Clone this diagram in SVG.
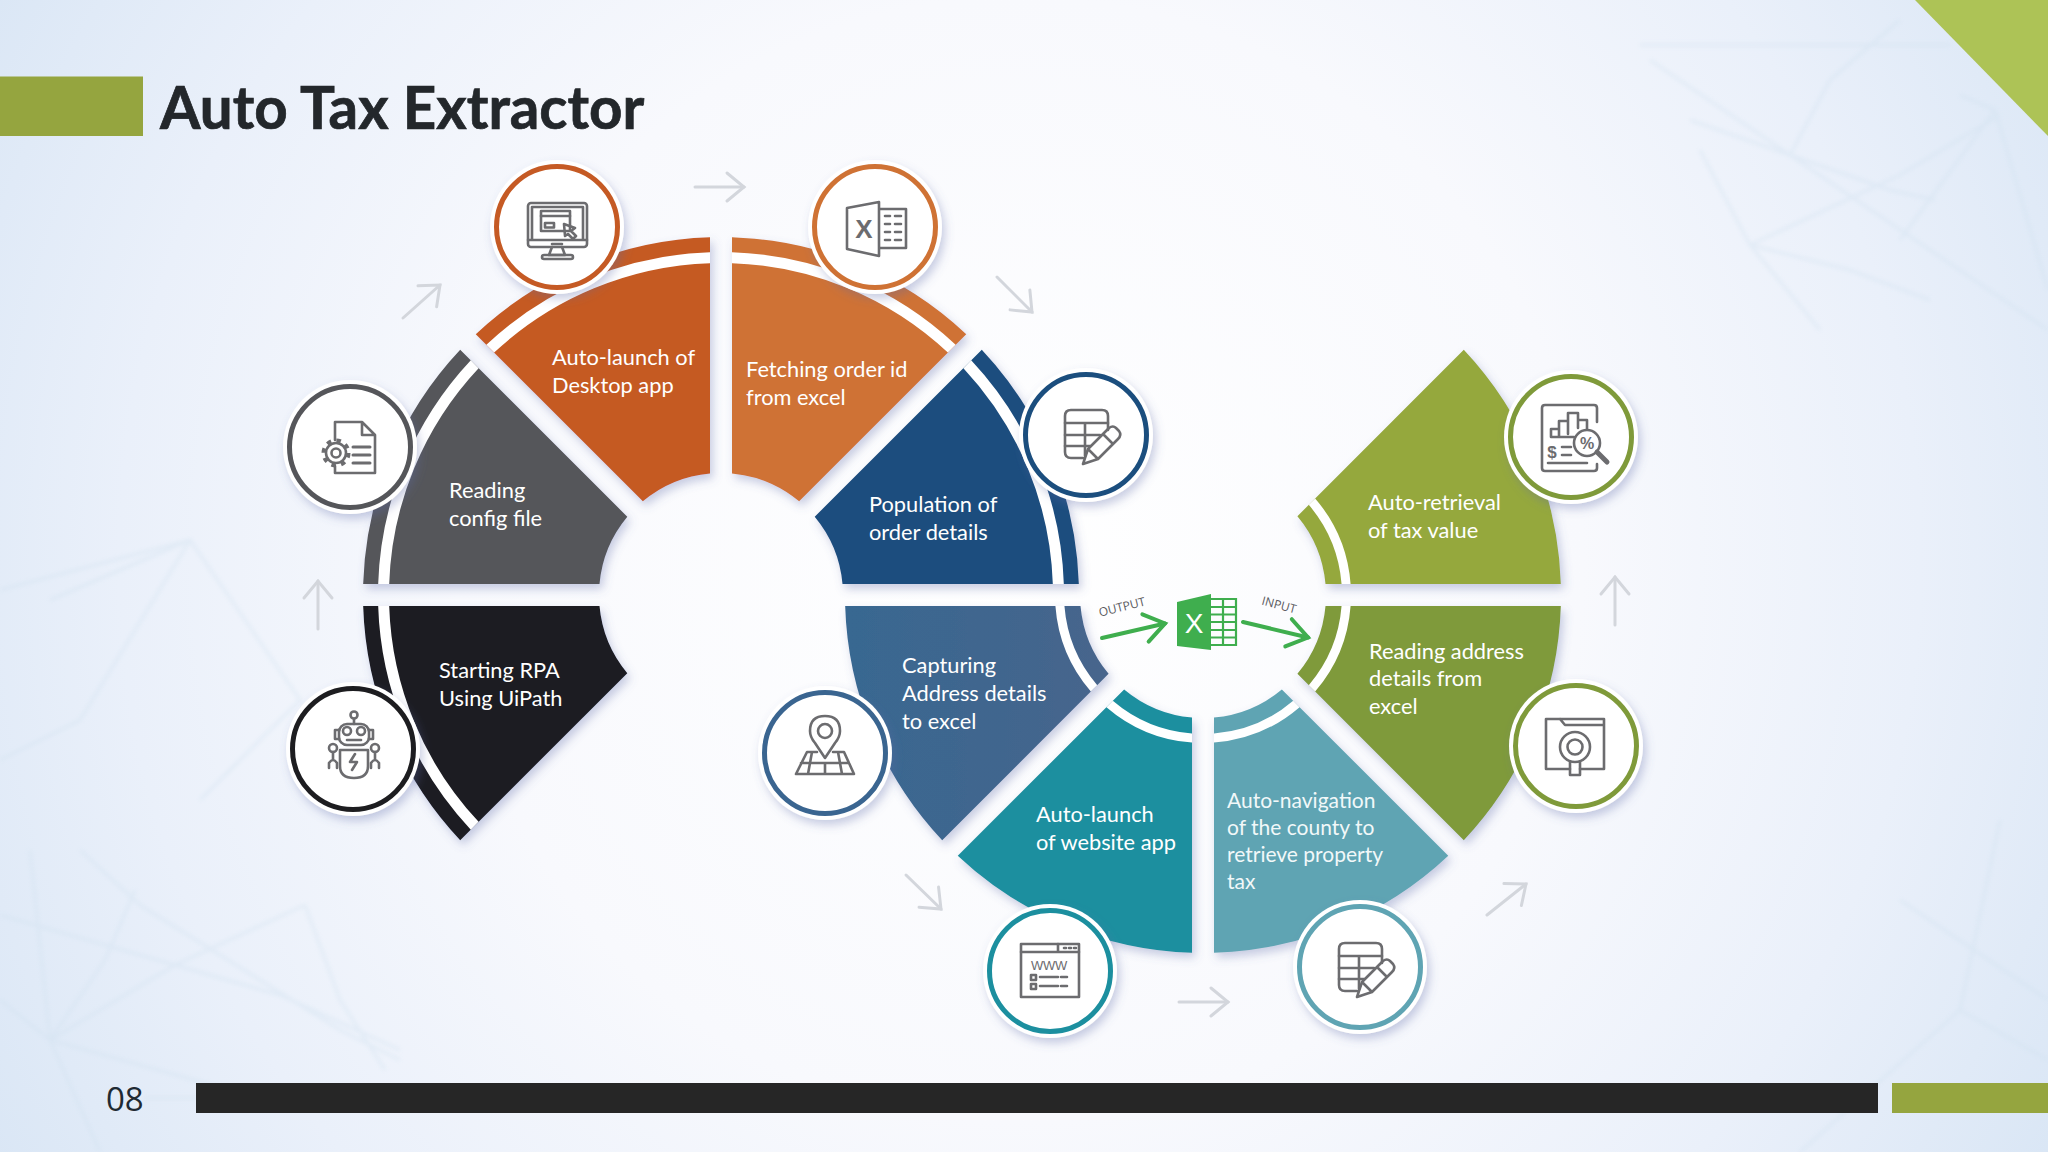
<svg xmlns="http://www.w3.org/2000/svg" xmlns:xlink="http://www.w3.org/1999/xlink" width="2048" height="1152" viewBox="0 0 2048 1152">
<defs>
<radialGradient id="bg" gradientUnits="userSpaceOnUse" cx="1020" cy="560" r="1250">
<stop offset="0" stop-color="#ffffff"/><stop offset=".45" stop-color="#f8f9fd"/><stop offset=".72" stop-color="#eaf0fa"/><stop offset="1" stop-color="#d6e4f4"/>
</radialGradient>
<linearGradient id="capG" x1="0" y1="0" x2="1" y2="0"><stop offset="0" stop-color="#386791"/><stop offset="1" stop-color="#47658c"/></linearGradient>
<filter id="sh" x="-15%" y="-15%" width="130%" height="130%"><feDropShadow dx="3" dy="5" stdDeviation="5" flood-color="#5a6aa8" flood-opacity=".33"/></filter>
<filter id="blur" x="-5%" y="-5%" width="110%" height="110%"><feGaussianBlur stdDeviation="2"/></filter>
<marker id="ah" markerUnits="userSpaceOnUse" viewBox="-24 -20 30 40" refX="0" refY="0" markerWidth="30" markerHeight="40" orient="auto"><path d="M-17-14 0 0-17 14" fill="none" stroke="#d3d6dc" stroke-width="3" stroke-linecap="round"/></marker>
<marker id="ag" markerUnits="userSpaceOnUse" viewBox="-26 -20 32 40" refX="0" refY="0" markerWidth="32" markerHeight="40" orient="auto"><path d="M-20-14 0 0-20 14" fill="none" stroke="#3fae4e" stroke-width="4" stroke-linecap="round"/></marker>
<g id="tableIcon" class="ic">
<path d="M1083 458H1071Q1065 458 1065 452V416Q1065 410 1071 410H1102Q1108 410 1108 416V430"/>
<path d="M1065 423H1108M1065 435H1100M1065 446H1090M1085 423V456"/>
<path d="M1083 464 1088 449 1109 428Q1113 425 1116 428L1119 431Q1122 435 1118 439L1098 459ZM1103 434 1113 444M1088 449 1098 459"/>
</g>
</defs>
<style>
.seg{filter:url(#sh)}
.band{fill:#fff}
.t{font-family:Lato,"Liberation Sans",sans-serif;font-size:21.800px;fill:#fff}
.t2{font-size:21px;fill:#f1f8f9}
.ring{fill:#fff;stroke:none;filter:url(#sh)}
.rc{fill:none;stroke-width:5}
.ic{fill:none;stroke:#6c6c6f;stroke-width:2.6;stroke-linejoin:round;stroke-linecap:round}
.ic2{fill:#6c6c6f;font-family:"Liberation Sans",sans-serif}
.ar{fill:none;stroke:#d3d6dc;stroke-width:3;stroke-linecap:round;marker-end:url(#ah)}
.ag{fill:none;stroke:#3fae4e;stroke-width:4;stroke-linecap:round;marker-end:url(#ag)}
.lb{font-family:"Open Sans","Liberation Sans",sans-serif;font-size:12px;fill:#5a5a5e}
</style>
<rect width="2048" height="1152" fill="url(#bg)"/>
<g fill="none" stroke="#cfe0ee" stroke-width="3" opacity=".4" filter="url(#blur)">
<path d="M1650 60 1790 155 2048 330M1640 45H1950M1690 120 1790 155 1890 190 1935 200M1750 245 1900 175 2000 115M1750 245 1700 150M1750 245 1850 270 1930 300M1900 240 1995 110 2048 290M1790 155 1830 80 1900 20M1995 110 1960 95M1750 245 1820 330"/>
<path d="M80 850 140 905 340 1030 400 1060M50 1040 105 960 135 890M50 1040 175 965 305 905M305 905 340 1000 385 1070M50 1040 0 1000M50 1040 30 850M50 1040 100 1152M0 915 175 965 280 995 400 1050M144 1098H196M50 1040 230 1090"/>
<path d="M0 590 190 540 300 700 200 800M190 540 80 720 0 760M190 540 50 600M1900 900 2048 1000M1800 1152 1960 1010 2048 1060M1960 1010 2000 820"/>
</g>
<g id="header">
<rect x="0" y="76.500" width="143" height="59.500" fill="#95a53f"/>
<polygon points="1915,0 2048,0 2048,136" fill="#adc356"/>
<text x="160" y="128.500" font-family="Lato,'Liberation Sans',sans-serif" font-weight="700" font-size="58.300" fill="#23272b" stroke="#23272b" stroke-width=".7">Auto Tax Extractor</text>
</g>
<g id="footer">
<text x="106" y="1111" font-family="'Open Sans','Liberation Sans',sans-serif" font-size="33" fill="#1f2a33">08</text>
<rect x="196" y="1083" width="1682" height="30" fill="#262626"/>
<rect x="1892" y="1083" width="156" height="30" fill="#95a53f"/>
</g>
<g id="connectors">
<path class="ar" d="M318 629V581"/>
<path class="ar" d="M403 318 440 285"/>
<path class="ar" d="M695 187H744"/>
<path class="ar" d="M997 277 1032 312"/>
<path class="ar" d="M906 875 941 909"/>
<path class="ar" d="M1179 1002H1228"/>
<path class="ar" d="M1487 915 1526 884"/>
<path class="ar" d="M1615 625V577"/>
<path class="ag" d="M1102 638 1165 623.500"/>
<path class="ag" d="M1243 622 1308 637.500"/>
</g>
<g id="node-start">
<g transform="translate(-1 0)"><path class="seg" fill="#1d1d20" d="M364.17 606A358 358 0 0 0 461.2 840.25L628.3 673.14A122 122 0 0 1 600.5 606Z"/>
<path class="band" d="M379.18 606A343 343 0 0 0 471.81 829.64L479.59 821.85A332 332 0 0 1 390.18 606Z"/></g>
<text class="t" x="439" y="678">Starting RPA</text><text class="t" x="439" y="706">Using UiPath</text>
<circle class="ring" cx="353" cy="749" r="67"/><circle class="rc" stroke="#1d1d20" cx="353" cy="749" r="60.500"/>
<g class="ic"><circle cx="354" cy="715" r="3.500"/><path d="M354 719V724"/><rect x="339" y="724" width="30" height="21" rx="8"/><path d="M339 730H335V739H339M369 730H373V739H369"/><circle cx="347" cy="731" r="4"/><circle cx="361" cy="731" r="4"/><path d="M347 740H361"/><path d="M340 750H368V766Q368 778 354 778 340 778 340 766ZM355 754 350 762H357L352 770"/><circle cx="333" cy="748" r="4"/><circle cx="375" cy="748" r="4"/><path d="M333 752V760M329 768V763Q333 757 337 763V768M375 752V760M371 768V763Q375 757 379 763V768"/></g>
</g>
<g id="node-config">
<g transform="translate(-1 0)"><path class="seg" fill="#55565a" d="M364.17 584A358 358 0 0 1 461.2 349.75L628.3 516.86A122 122 0 0 0 600.5 584Z"/>
<path class="band" d="M379.18 584A343 343 0 0 1 471.81 360.36L479.59 368.15A332 332 0 0 0 390.18 584Z"/></g>
<text class="t" x="449" y="498">Reading</text><text class="t" x="449" y="526">config file</text>
<circle class="ring" cx="350" cy="447" r="67"/><circle class="rc" stroke="#55565a" cx="350" cy="447" r="60.500"/>
<g class="ic"><path d="M335 440V422H362L375 435V473H335V466M362 422V435H375"/><path stroke-width="3" d="M353 447H370M353 455H370M353 463H370"/><circle cx="336" cy="453" r="4.500"/><circle cx="336" cy="453" r="10"/><circle cx="336" cy="453" r="12.500" stroke-width="4" stroke-linecap="butt" stroke-dasharray="4.500 5.320" fill="none"/></g>
</g>
<g id="node-desktop">
<g transform="translate(-1 0)"><path class="seg" fill="#c55a24" d="M711 237.17A358 358 0 0 0 476.75 334.2L643.86 501.3A122 122 0 0 1 711 473.5Z"/>
<path class="band" d="M711 252.18A343 343 0 0 0 487.36 344.81L495.15 352.59A332 332 0 0 1 711 263.18Z"/></g>
<text class="t" x="552" y="364.500">Auto-launch of</text><text class="t" x="552" y="393">Desktop app</text>
<circle class="ring" cx="557" cy="227" r="67"/><circle class="rc" stroke="#c55a24" cx="557" cy="227" r="60.500"/>
<g class="ic" stroke-width="2.200"><rect x="528" y="203" width="59" height="44" rx="3"/><path d="M532 240V207H583V240M528 240H587M552 244H562"/><rect x="541" y="211" width="29" height="20"/><path d="M541 216H570"/><rect x="545" y="223" width="9" height="4.500"/><path d="M564 224 575 228 571 231 576 236 573 239 568 234 565 236ZM552 247 549 255H565L562 247"/><rect x="542" y="255" width="31" height="4" rx="2"/></g>
</g>
<g id="node-fetch">
<g transform="translate(-1 0)"><path class="seg" fill="#cf7234" d="M733 237.17A358 358 0 0 1 967.25 334.2L800.14 501.3A122 122 0 0 0 733 473.5Z"/>
<path class="band" d="M733 252.18A343 343 0 0 1 956.64 344.81L948.85 352.59A332 332 0 0 0 733 263.18Z"/></g>
<text class="t" x="746" y="377">Fetching order id</text><text class="t" x="746" y="405">from excel</text>
<circle class="ring" cx="875" cy="227" r="67"/><circle class="rc" stroke="#cf7234" cx="875" cy="227" r="60.500"/>
<g class="ic" stroke-width="3"><path d="M847 208 879 202V256L847 249ZM879 209H906V248H879"/><path d="M885 216H890M895 216H901M885 224H890M895 224H901M885 232H890M895 232H901M885 240H890M895 240H901"/></g>
<text class="ic2" x="864" y="238" font-size="26" font-weight="700" text-anchor="middle">X</text>
</g>
<g id="node-population">
<g transform="translate(-1 0)"><path class="seg" fill="#1b4e7e" d="M1079.83 584A358 358 0 0 0 982.8 349.75L815.7 516.86A122 122 0 0 1 843.5 584Z"/>
<path class="band" d="M1064.82 584A343 343 0 0 0 972.19 360.36L964.41 368.15A332 332 0 0 1 1053.82 584Z"/></g>
<text class="t" x="869" y="512">Population of</text><text class="t" x="869" y="540">order details</text>
<circle class="ring" cx="1086" cy="435" r="67"/><circle class="rc" stroke="#1b4e7e" cx="1086" cy="435" r="60.500"/>
<use href="#tableIcon" xlink:href="#tableIcon"/>
</g>
<g id="node-capture">
<path class="seg" fill="url(#capG)" d="M845.17 606A358 358 0 0 0 942.2 840.25L1108.59 673.85A123 123 0 0 1 1080.49 606Z"/>
<path class="band" d="M1055.41 606A148 148 0 0 0 1090.86 691.58L1097.24 685.2A139 139 0 0 1 1064.44 606Z"/>
<text class="t" x="902" y="672.500">Capturing</text><text class="t" x="902" y="700.500">Address details</text><text class="t" x="902" y="728.500">to excel</text>
<circle class="ring" cx="825" cy="753" r="67"/><circle class="rc" stroke="#3a6590" cx="825" cy="753" r="60.500"/>
<g class="ic" stroke-width="3"><path d="M825 758 815 743Q810 737 810 731 810 716 825 716 840 716 840 731 840 737 835 743Z"/><circle cx="825" cy="731" r="7"/><path d="M817 752H807L796 774H854L844 752H833M801 763H849M812 752 808 774M838 752 842 774M825 763V774"/></g>
</g>
<g id="node-website">
<path class="seg" fill="#1c8f9f" d="M1192 952.83A358 358 0 0 1 957.75 855.8L1124.15 689.41A123 123 0 0 0 1192 717.51Z"/>
<path class="band" d="M1192 742.59A148 148 0 0 1 1106.42 707.14L1112.8 700.76A139 139 0 0 0 1192 733.56Z"/>
<text class="t" x="1036" y="821.500">Auto-launch</text><text class="t" x="1036" y="849.500">of website app</text>
<circle class="ring" cx="1050" cy="971" r="67"/><circle class="rc" stroke="#1c8f9f" cx="1050" cy="971" r="60.500"/>
<g class="ic" stroke-width="1.900"><rect x="1021" y="944" width="58" height="53"/><path d="M1021 952H1079M1058 944V952M1064 948H1066M1069 948H1071M1074 948H1076"/><rect x="1031" y="975" width="5" height="5"/><rect x="1031" y="984" width="5" height="5"/><path d="M1040 977H1058M1061 977H1067M1040 986H1058M1061 986H1067"/></g>
<text class="ic2" x="1049" y="970" font-size="13" text-anchor="middle" letter-spacing="-.3">WWW</text>
</g>
<g id="node-navigate">
<path class="seg" fill="#5fa4b3" d="M1214 952.83A358 358 0 0 0 1448.25 855.8L1281.85 689.41A123 123 0 0 1 1214 717.51Z"/>
<path class="band" d="M1214 742.59A148 148 0 0 0 1299.58 707.14L1293.2 700.76A139 139 0 0 1 1214 733.56Z"/>
<text class="t t2" x="1227" y="808">Auto-navigation</text><text class="t t2" x="1227" y="835">of the county to</text><text class="t t2" x="1227" y="862">retrieve property</text><text class="t t2" x="1227" y="888.500">tax</text>
<circle class="ring" cx="1360" cy="967" r="67"/><circle class="rc" stroke="#5fa4b3" cx="1360" cy="967" r="60.500"/>
<use href="#tableIcon" xlink:href="#tableIcon" transform="translate(274 533)"/>
</g>
<g id="node-reading">
<path class="seg" fill="#7f9a3a" d="M1560.83 606A358 358 0 0 1 1463.8 840.25L1297.41 673.85A123 123 0 0 0 1325.51 606Z"/>
<path class="band" d="M1350.59 606A148 148 0 0 1 1315.14 691.58L1308.76 685.2A139 139 0 0 0 1341.56 606Z"/>
<text class="t" x="1369" y="658.500">Reading address</text><text class="t" x="1369" y="686">details from</text><text class="t" x="1369" y="714">excel</text>
<circle class="ring" cx="1576" cy="746" r="67"/><circle class="rc" stroke="#7f9a3a" cx="1576" cy="746" r="60.500"/>
<g class="ic" stroke-width="3" stroke-linecap="butt"><path d="M1570 769H1546V719H1604V769H1580M1560 719 1565 725H1604"/><circle cx="1575" cy="747" r="15"/><circle cx="1575" cy="747" r="7.500"/><path d="M1570 762V775H1580V762"/></g>
</g>
<g id="node-retrieval">
<path class="seg" fill="#95a83d" d="M1560.83 584A358 358 0 0 0 1463.8 349.75L1297.41 516.15A123 123 0 0 1 1325.51 584Z"/>
<path class="band" d="M1350.59 584A148 148 0 0 0 1315.14 498.42L1308.76 504.8A139 139 0 0 1 1341.56 584Z"/>
<text class="t" x="1368" y="510">Auto-retrieval</text><text class="t" x="1368" y="538">of tax value</text>
<circle class="ring" cx="1571" cy="437" r="67"/><circle class="rc" stroke="#7f9a3a" cx="1571" cy="437" r="60.500"/>
<g class="ic"><path d="M1597 422V408Q1597 405 1594 405H1545Q1542 405 1542 408V468Q1542 471 1545 471H1594Q1597 471 1597 468V464"/><path d="M1551 437V429H1559V421H1568V413H1578V428M1559 429V437M1568 421V434M1551 437H1574M1578 420H1587V429"/><circle cx="1587" cy="443" r="13"/><path stroke-width="5" d="M1597 452 1607 462"/><path d="M1562 447H1571M1562 455H1571M1548 463H1587"/></g>
<text class="ic2" x="1587" y="449" font-size="16" font-weight="700" text-anchor="middle">%</text>
<text class="ic2" x="1552" y="458" font-size="17" font-weight="700" text-anchor="middle">$</text>
</g>
<g id="node-excel">
<polygon points="1177,602 1211,594 1211,650 1177,646" fill="#3fae4e"/>
<text x="1194" y="633" font-family="'Liberation Sans',sans-serif" font-size="28" fill="#fff" text-anchor="middle">X</text>
<path d="M1211 599H1236V645H1211M1211 607H1236M1211 614.500H1236M1211 622H1236M1211 630H1236M1211 637.500H1236M1223 599V645" fill="none" stroke="#3fae4e" stroke-width="2.200"/>
<text class="lb" transform="translate(1123 611) rotate(-14)" text-anchor="middle">OUTPUT</text>
<text class="lb" transform="translate(1278 609) rotate(15)" text-anchor="middle">INPUT</text>
</g>
</svg>
